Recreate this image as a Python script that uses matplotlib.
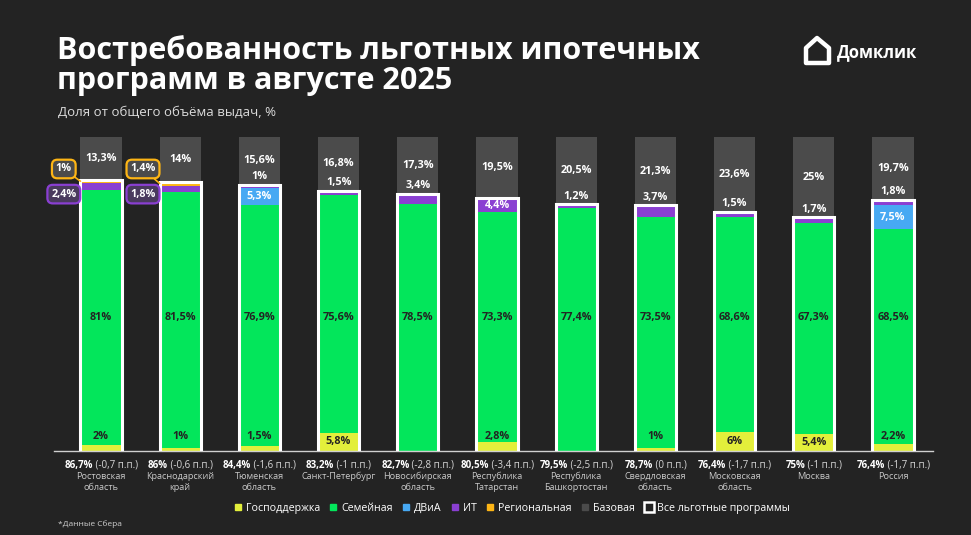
import matplotlib.pyplot as plt
from matplotlib.lines import Line2D
from matplotlib.patches import Rectangle, Polygon
import numpy as np

plt.rcParams['font.family'] = ['Open Sans', 'DejaVu Sans']

regions = ['Ростовская\nобласть', 'Краснодарский\nкрай', 'Тюменская\nобласть', 'Санкт-Петербург',
           'Новосибирская\nобласть', 'Республика\nТатарстан', 'Республика\nБашкортостан',
           'Свердловская\nобласть', 'Московская\nобласть', 'Москва', 'Россия']
gos = [2, 1, 1.5, 5.8, 0, 2.8, 0, 1, 6, 5.4, 2.2]
sem = [81, 81.5, 76.9, 75.6, 78.5, 73.3, 77.4, 73.5, 68.6, 67.3, 68.5]
dvia = [0, 0, 5.3, 0, 0, 0, 0, 0, 0, 0, 7.5]
it = [2.4, 1.8, 1, 1.5, 3.4, 4.4, 1.2, 3.7, 1.5, 1.7, 1.8]
reg = [1, 1.4, 0, 0, 0, 0, 0, 0, 0, 0, 0]
base = [13.3, 14, 15.6, 16.8, 17.3, 19.5, 20.5, 21.3, 23.6, 25, 19.7]
share = ['86,7%', '86%', '84,4%', '83,2%', '82,7%', '80,5%', '79,5%', '78,7%', '76,4%', '75%', '76,4%']
change = ['(-0,7 п.п.)', '(-0,6 п.п.)', '(-1,6 п.п.)', '(-1 п.п.)', '(-2,8 п.п.)', '(-3,4 п.п.)',
          '(-2,5 п.п.)', '(0 п.п.)', '(-1,7 п.п.)', '(-1 п.п.)', '(-1,7 п.п.)']
it_mode = ['callout', 'callout', 'above', 'above', 'above', 'inside', 'above', 'above', 'above', 'above', 'above']

BG = '#232323'
C_GOS = '#E3EF3B'
C_SEM = '#03E65B'
C_DVIA = '#47A9F3'
C_IT = '#8A3FD2'
C_REG = '#FDB515'
C_BASE = '#4B4B4B'
DARK = '#232323'


def pct(v):
    return f"{v:g}".replace('.', ',') + '%'


fig = plt.figure(figsize=(9.71, 5.35), dpi=100, facecolor=BG)
ax = fig.add_axes([0.0551, 0.157, 0.9135, 0.587])
ax.set_facecolor(BG)
ax.set_xlim(-0.6, 10.6)
ax.set_ylim(0, 100)
ax.axis('off')

x = np.arange(len(regions))
w = 0.52
gos = np.array(gos)
sem = np.array(sem)
dvia = np.array(dvia)
it = np.array(it)
reg = np.array(reg)
total = gos + sem + dvia + it + reg

# gray "base" part up to 100
ax.bar(x, 100 - total, w, bottom=total, color=C_BASE, zorder=1)
bottom = np.zeros(len(x))
for vals, col in [(gos, C_GOS), (sem, C_SEM), (dvia, C_DVIA), (it, C_IT), (reg, C_REG)]:
    ax.bar(x, vals, w, bottom=bottom, color=col, zorder=2)
    bottom = bottom + vals

# white outline around the benefit programs
for i in x:
    ax.add_patch(Rectangle((i - w / 2, -0.4), w, total[i] + 0.4, fill=False,
                           ec='white', lw=2.2, zorder=4))

ax.plot([-0.6, 10.5], [0, 0], color='#d0d0d0', lw=1, zorder=3, clip_on=False)

lab = dict(ha='center', va='center', fontsize=7.8, fontweight='bold', zorder=5)
for i in x:
    # base
    ax.text(i, total[i] + (100 - total[i]) / 2, pct(base[i]), color='white', **lab)
    # semeynaya
    ax.text(i, 42.5, pct(sem[i]), color=DARK, **lab)
    # gospodderzhka
    if gos[i] > 0:
        ax.text(i, gos[i] / 2 if gos[i] >= 5 else 4.5, pct(gos[i]), color=DARK, **lab)
    # dvia
    if dvia[i] > 0:
        ax.text(i, gos[i] + sem[i] + dvia[i] / 2, pct(dvia[i]), color='white', **lab)
    # it
    if it_mode[i] == 'above':
        ax.text(i, total[i] + 2.6, pct(it[i]), color='white', **lab)
    elif it_mode[i] == 'inside':
        ax.text(i, gos[i] + sem[i] + dvia[i] + it[i] / 2, pct(it[i]), color='white', **lab)
    else:
        ax.text(i - 0.47, 81.8, pct(it[i]), color='white',
                bbox=dict(boxstyle='round,pad=0.35,rounding_size=0.5', fc='#4a3a5e', ec=C_IT, lw=1.6), **lab)
        ax.annotate(pct(reg[i]), xy=(i - w / 2, total[i] - 0.5), xytext=(i - 0.47, 89.8),
                    color='white', ha='center', va='center', fontsize=7.8, fontweight='bold', zorder=5,
                    bbox=dict(boxstyle='round,pad=0.35,rounding_size=0.5', fc='#4b4b4b', ec=C_REG, lw=1.6),
                    arrowprops=dict(arrowstyle='-', color=C_REG, lw=1.2, shrinkA=0, shrinkB=0))

# bottom labels: bold share + regular change, centered together
fig.canvas.draw()
r = fig.canvas.get_renderer()
for i in x:
    t1 = ax.text(i, 0, share[i], fontsize=7, fontweight='bold', color='white', ha='left', va='center')
    t2 = ax.text(i, 0, ' ' + change[i], fontsize=7, color='#d8d8d8', ha='left', va='center')
    w1 = t1.get_window_extent(r).width
    w2 = t2.get_window_extent(r).width
    px, py = ax.transData.transform((i, 0))
    start = px - (w1 + w2) / 2
    inv = ax.transData.inverted()
    x1, y1 = inv.transform((start, py - 14))
    x2, _ = inv.transform((start + w1, py - 14))
    t1.set_position((x1, y1))
    t2.set_position((x2, y1))
    t1.set_clip_on(False)
    t2.set_clip_on(False)
    ax.annotate(regions[i], xy=(i, 0), xytext=(0, -21), textcoords='offset pixels',
                ha='center', va='top', fontsize=6.6, color='#c8c8c8', linespacing=1.25,
                annotation_clip=False)

# legend
handles = [
    Line2D([], [], marker='s', ls='', color=C_GOS, markersize=4.5, label='Господдержка'),
    Line2D([], [], marker='s', ls='', color=C_SEM, markersize=4.5, label='Семейная'),
    Line2D([], [], marker='s', ls='', color=C_DVIA, markersize=4.5, label='ДВиА'),
    Line2D([], [], marker='s', ls='', color=C_IT, markersize=4.5, label='ИТ'),
    Line2D([], [], marker='s', ls='', color=C_REG, markersize=4.5, label='Региональная'),
    Line2D([], [], marker='s', ls='', color=C_BASE, markersize=4.5, label='Базовая'),
    Line2D([], [], marker='s', ls='', mfc='none', mec='white', mew=1.8, markersize=7.5,
           label='Все льготные программы'),
]
fig.legend(handles=handles, loc='center', bbox_to_anchor=(0.527, 0.05), ncol=7, frameon=False,
           fontsize=7.7, labelcolor='white', handlelength=0.7, handletextpad=0.4, columnspacing=0.9)

fig.text(0.06, 0.021, '*Данные Сбера', fontsize=6, color='#cfcfcf', va='center')

# title
fig.text(0.059, 0.935, 'Востребованность льготных ипотечных\nпрограмм в августе 2025',
         fontsize=22, fontweight='bold', color='white', va='top', linespacing=1.02)
fig.text(0.06, 0.79, 'Доля от общего объёма выдач, %', fontsize=9.5, color='#dcdcdc', va='center')

# logo
fig.text(0.862, 0.902, 'Домклик', fontsize=12, fontweight='bold', color='white', va='center')
house = Polygon([[806, 472], [806, 487], [817, 497], [829, 487], [829, 472]], closed=True,
                fill=False, ec='white', lw=3.2, joinstyle='round', transform=None)
fig.patches.append(house)

fig.savefig('out.png', dpi=100, facecolor=BG)
